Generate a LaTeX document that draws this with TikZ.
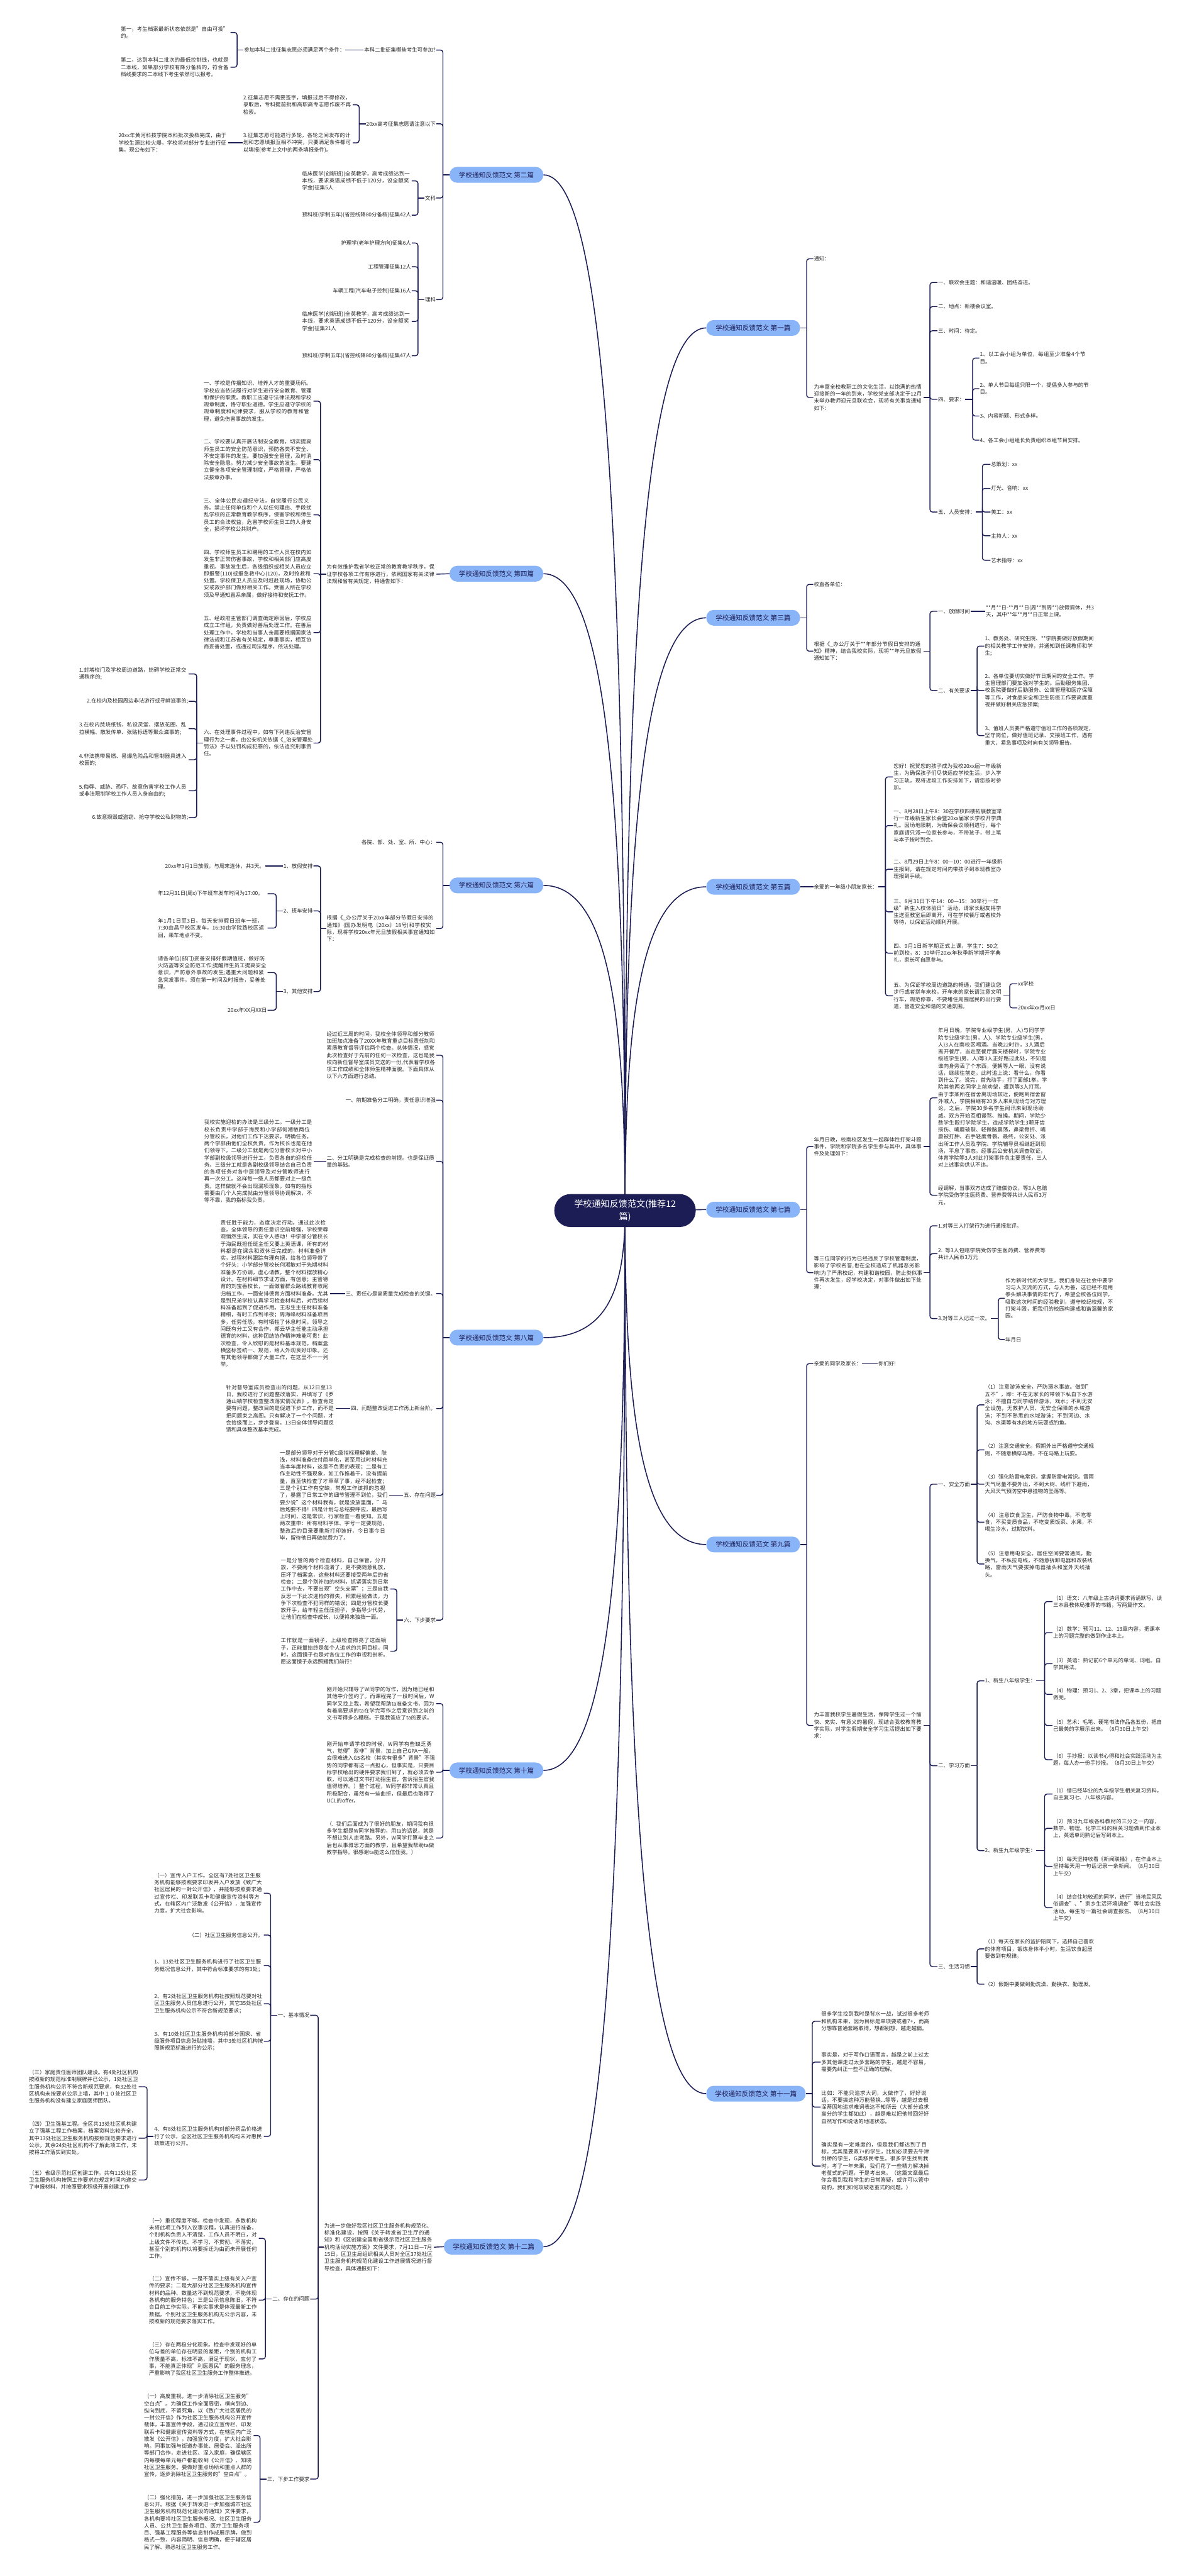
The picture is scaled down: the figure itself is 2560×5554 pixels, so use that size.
\documentclass[tikz,border=0pt]{standalone}
\usepackage{fontspec}
\setmainfont{Noto Sans CJK SC}
\XeTeXlinebreaklocale "zh"
\XeTeXlinebreakskip = 0pt plus 1pt
\usetikzlibrary{backgrounds}
\definecolor{navy}{HTML}{1C1D55}
\definecolor{topicblue}{HTML}{8AB4F8}

\begin{document}
\begin{tikzpicture}[x=0.2mm, y=-0.2mm,
  txt/.style={font=\fontsize{6.5pt}{8.7pt}\selectfont, text=black!85, inner xsep=0.2mm, inner ysep=0.2mm},
  para/.style={txt, text width=47mm, align=left},
  lft/.style={anchor=east},
  rgt/.style={anchor=west},
  topic/.style={fill=topicblue, text=navy, rounded corners=3.2mm, minimum width=40.4mm, minimum height=6.8mm, inner xsep=3.8mm, font=\fontsize{8.2pt}{10pt}\selectfont},
  root/.style={fill=navy, text=white, rounded corners=7mm, minimum width=61mm, minimum height=14.2mm, align=center, font=\fontsize{10.9pt}{15.3pt}\selectfont},
  link/.style={draw=navy, line width=1.1pt, rounded corners=3pt},
  trunk/.style={draw=navy, line width=1.2pt}]
\useasboundingbox (0,0) rectangle (2560,5554);

% centre and topics
\node[root] (root) at (1348,2610) {学校通知反馈范文(推荐12\\篇)};
\node[topic, lft] (b2) at (1172,377) {学校通知反馈范文 第二篇};
\node[topic, lft] (b4) at (1172,1237) {学校通知反馈范文 第四篇};
\node[topic, lft] (b6) at (1172,1909) {学校通知反馈范文 第六篇};
\node[topic, lft] (b8) at (1172,2884) {学校通知反馈范文 第八篇};
\node[topic, lft] (b10) at (1172,3817) {学校通知反馈范文 第十篇};
\node[topic, lft] (b12) at (1172,4844) {学校通知反馈范文 第十二篇};
\node[topic, rgt] (b1) at (1523,707) {学校通知反馈范文 第一篇};
\node[topic, rgt] (b3) at (1523,1332) {学校通知反馈范文 第三篇};
\node[topic, rgt] (b5) at (1523,1912) {学校通知反馈范文 第五篇};
\node[topic, rgt] (b7) at (1523,2608) {学校通知反馈范文 第七篇};
\node[topic, rgt] (b9) at (1523,3330) {学校通知反馈范文 第九篇};
\node[topic, rgt] (b11) at (1523,4514) {学校通知反馈范文 第十一篇};

\begin{scope}[on background layer]
\fill[white] (0,0) rectangle (2560,5554);
\draw[trunk] (b2.east) .. controls (1313,377) and (1348,1270) .. (root.center);
\draw[trunk] (b4.east) .. controls (1313,1237) and (1348,1786) .. (root.center);
\draw[trunk] (b6.east) .. controls (1313,1909) and (1348,2189) .. (root.center);
\draw[trunk] (b8.east) .. controls (1313,2884) and (1348,2774) .. (root.center);
\draw[trunk] (b10.east) .. controls (1313,3817) and (1348,3334) .. (root.center);
\draw[trunk] (b12.east) .. controls (1313,4844) and (1348,3950) .. (root.center);
\draw[trunk] (b1.west) .. controls (1383,707) and (1348,1468) .. (root.center);
\draw[trunk] (b3.west) .. controls (1383,1332) and (1348,1843) .. (root.center);
\draw[trunk] (b5.west) .. controls (1383,1912) and (1348,2191) .. (root.center);
\draw[trunk] (b7.west) -- (root.center);
\draw[trunk] (b9.west) .. controls (1383,3330) and (1348,3042) .. (root.center);
\draw[trunk] (b11.west) .. controls (1383,4514) and (1348,3752) .. (root.center);
\end{scope}

% 第二篇
\node[txt, lft] (b2a) at (941,108) {本科二批征集哪些考生可参加?};
\node[txt, lft] (b2b) at (941,267) {20xx高考征集志愿请注意以下};
\node[txt, lft] (b2c) at (941,427) {文科};
\node[txt, lft] (b2d) at (941,646) {理科};
\node[txt, lft] (b2a1) at (745,108) {参加本科二批征集志愿必须满足两个条件：};
\node[para, lft] (b2a1a) at (497,70) {第一，考生档案最新状态依然是"自由可投"的。};
\node[para, lft] (b2a1b) at (497,145) {第二，达到本科二批次的最低控制线，也就是二本线，如果部分学校有降分备档的，符合备档线要求的二本线下考生依然可以报考。};
\node[para, lft] (b2b1) at (761,226) {2.征集志愿不需要签字，填报过后不得修改，录取后，专科提前批和高职高专志愿作废不再检索。};
\node[para, lft] (b2b2) at (761,308) {3.征集志愿可能进行多轮，各轮之间发布的计划和志愿填报互相不冲突，只要满足条件都可以填报(参考上文中的两条填报条件)。};
\node[para, lft] (b2b2a) at (492,308) {20xx年黄河科技学院本科批次投档完成，由于学校生源比较火爆，学校将对部分专业进行征集，现公布如下：};
\node[para, lft] (b2c1) at (888,390) {临床医学(创新班)(全英教学，高考成绩达到一本线，要求英语成绩不低于120分，设全额奖学金)征集5人};
\node[para, lft] (b2c2) at (888,464) {预科班(学制五年)(省控线降80分备档)征集42人};
\node[txt, lft] (b2d1) at (888,524) {护理学(老年护理方向)征集6人};
\node[txt, lft] (b2d2) at (888,575) {工程管理征集12人};
\node[txt, lft] (b2d3) at (888,627) {车辆工程(汽车电子控制)征集16人};
\node[para, lft] (b2d4) at (888,693) {临床医学(创新班)(全英教学，高考成绩达到一本线，要求英语成绩不低于120分，设全额奖学金)征集21人};
\node[para, lft] (b2d5) at (888,767) {预科班(学制五年)(省控线降80分备档)征集47人};
\draw[link] (b2.west) -- ++(-14,0) coordinate (b2-j);
\foreach \c in {b2a,b2b,b2c,b2d} \draw[link] (b2-j) |- (\c.east);
\draw[link] (b2a.west) -- (b2a1.east);
\draw[link] (b2a1.west) -- ++(-14,0) coordinate (b2a1-j);
\foreach \c in {b2a1a,b2a1b} \draw[link] (b2a1-j) |- (\c.east);
\draw[link] (b2b.west) -- ++(-14,0) coordinate (b2b-j);
\foreach \c in {b2b1,b2b2} \draw[link] (b2b-j) |- (\c.east);
\draw[link] (b2b2.west) -- (b2b2a.east);
\draw[link] (b2c.west) -- ++(-14,0) coordinate (b2c-j);
\foreach \c in {b2c1,b2c2} \draw[link] (b2c-j) |- (\c.east);
\draw[link] (b2d.west) -- ++(-14,0) coordinate (b2d-j);
\foreach \c in {b2d1,b2d2,b2d3,b2d4,b2d5} \draw[link] (b2d-j) |- (\c.east);

% 第四篇
\node[para, lft] (b4a) at (941,1238) {为有效维护我省学校正常的教育教学秩序，保证学校各项工作有序进行，依照国家有关法律法规和省有关规定，特通告如下：};
\node[para, lft] (b4a1) at (676,865) {一、学校是传播知识、培养人才的重要场所。学校应当依法履行对学生进行安全教育、管理和保护的职责。教职工应遵守法律法规和学校规章制度，恪守职业道德。学生应遵守学校的规章制度和纪律要求，服从学校的教育和管理，避免伤害事故的发生。};
\node[para, lft] (b4a2) at (676,991) {二、学校要认真开展法制安全教育，切实提高师生员工的安全防范意识，预防各类不安全、不安定事件的发生。要加强安全管理，及时消除安全隐患，努力减少安全事故的发生。要建立健全各项安全管理制度，严格管理，严格依法按章办事。};
\node[para, lft] (b4a3) at (676,1110) {三、全体公民应遵纪守法，自觉履行公民义务。禁止任何单位和个人以任何理由、手段扰乱学校的正常教育教学秩序，侵害学校和师生员工的合法权益，危害学校师生员工的人身安全，损坏学校公共财产。};
\node[para, lft] (b4a4) at (676,1237) {四、学校师生员工和聘用的工作人员在校内如发生非正常伤害事故，学校和相关部门应高度重视。事故发生后，各级组织或相关人员应立即报警(110)或报急救中心(120)，及时抢救和处置。学校保卫人员应及时赶赴现场，协助公安或救护部门做好相关工作。受害人所在学校须及早通知直系亲属，做好接待和安抚工作。};
\node[para, lft] (b4a5) at (676,1364) {五、经政府主管部门调查确定原因后，学校应成立工作组，负责做好善后处理工作。在善后处理工作中，学校和当事人亲属要根据国家法律法规和江苏省有关规定，尊重事实，相互协商妥善处置，或通过司法程序，依法处理。};
\node[para, lft] (b4a6) at (676,1602) {六、在处理事件过程中，如有下列违反治安管理行为之一者，由公安机关依据《\_治安管理处罚法》予以处罚构成犯罪的，依法追究刑事责任。};
\node[para, lft] (b4a6a) at (407,1453) {1.封堵校门及学校周边道路，妨碍学校正常交通秩序的;};
\node[txt, lft] (b4a6b) at (407,1512) {2.在校内及校园周边非法游行或寻衅滋事的;};
\node[para, lft] (b4a6c) at (407,1571) {3.在校内焚烧纸钱、私设灵堂、摆放花圈、乱拉横幅、散发传单、张贴标语等聚众滋事的;};
\node[para, lft] (b4a6d) at (407,1638) {4.非法携带易燃、易爆危险品和管制器具进入校园的;};
\node[para, lft] (b4a6e) at (407,1705) {5.侮辱、威胁、恐吓、故意伤害学校工作人员或非法限制学校工作人员人身自由的;};
\node[txt, lft] (b4a6f) at (407,1763) {6.故意损毁或盗窃、抢夺学校公私财物的;};
\draw[link] (b4.west) -- (b4a.east);
\draw[link] (b4a.west) -- ++(-12,0) coordinate (b4a-j);
\foreach \c in {b4a1,b4a2,b4a3,b4a4,b4a5,b4a6} \draw[link] (b4a-j) |- (\c.east);
\draw[link] (b4a6.west) -- ++(-14,0) coordinate (b4a6-j);
\foreach \c in {b4a6a,b4a6b,b4a6c,b4a6d,b4a6e,b4a6f} \draw[link] (b4a6-j) |- (\c.east);

% 第六篇
\node[txt, lft] (b6a) at (941,1816) {各院、部、处、室、所、中心：};
\node[para, lft] (b6b) at (941,2002) {根据《\_办公厅关于20xx年部分节假日安排的通知》(国办发明电〔20xx〕18号)和学校实际，现将学校20xx年元旦放假相关事宜通知如下：};
\node[txt, lft] (b6b1) at (676,1867) {1、放假安排};
\node[txt, lft] (b6b2) at (676,1964) {2、班车安排};
\node[txt, lft] (b6b3) at (676,2138) {3、其他安排};
\node[txt, lft] (b6b1a) at (572,1867) {20xx年1月1日放假，与周末连休，共3天。};
\node[para, lft] (b6b2a) at (577,1927) {年12月31日(周x)下午班车发车时间为17:00。};
\node[para, lft] (b6b2b) at (577,2001) {年1月1日至3日，每天安排假日班车一班，7:30由昌平校区发车，16:30由学院路校区返回，乘车地点不变。};
\node[para, lft] (b6b3a) at (577,2097) {请各单位(部门)妥善安排好假期值班，做好防火防盗等安全防范工作;提醒师生员工提高安全意识，严防意外事故的发生;遇重大问题和紧急突发事件，须在第一时间及时报告，妥善处理。};
\node[txt, lft] (b6b3b) at (577,2178) {20xx年XX月XX日};
\draw[link] (b6.west) -- ++(-14,0) coordinate (b6-j);
\foreach \c in {b6a,b6b} \draw[link] (b6-j) |- (\c.east);
\draw[link] (b6b.west) -- ++(-12,0) coordinate (b6b-j);
\foreach \c in {b6b1,b6b2,b6b3} \draw[link] (b6b-j) |- (\c.east);
\draw[link] (b6b1.west) -- (b6b1a.east);
\draw[link] (b6b2.west) -- ++(-14,0) coordinate (b6b2-j);
\foreach \c in {b6b2a,b6b2b} \draw[link] (b6b2-j) |- (\c.east);
\draw[link] (b6b3.west) -- ++(-14,0) coordinate (b6b3-j);
\foreach \c in {b6b3a,b6b3b} \draw[link] (b6b3-j) |- (\c.east);

% 第八篇
\node[para, lft] (b8a) at (941,2275) {经过近三周的时间，我校全体领导和部分教师加班加点准备了20XX年教育重点目标责任制和素质教育督导评估两个检查。总体情况，感觉此次检查好于先前的任何一次检查，这也是我校向新任督导室成员交送的一份,代表着学校各项工作成绩和全体师生精神面貌。下面具体从以下六方面进行总结。};
\node[txt, lft] (b8b) at (941,2372) {一、前期准备分工明确，责任意识增强};
\node[para, lft] (b8c) at (941,2504) {二、分工明确是完成检查的前提。也是保证质量的基础。};
\node[txt, lft] (b8d) at (941,2789) {三、责任心是高质量完成检查的关键。};
\node[txt, lft] (b8e) at (941,3037) {四、问题整改促进工作再上新台阶。};
\node[txt, lft] (b8f) at (941,3224) {五、存在问题};
\node[txt, lft] (b8g) at (941,3493) {六、下步要求};
\node[para, lft] (b8c1) at (677,2504) {我校实施迎检的办法是三级分工。一级分工是校长负责中学部于海民和小学部何湘敏两位分管校长，对他们工作下达要求，明确任务。两个学部由他们全权负责，作为校长也是在他们领导下。二级分工就是两位分管校长对中小学部副校级领导进行分工，负责各自的迎检任务。三级分工就是各副校级领导结合自己负责的各项任务对各中层领导及对分管教师进行再一次分工。这样每一级人员都要对上一级负责。这样做就不会出现漏项现象。如有的指标需要由几个人完成就由分管领导协调解决，不等不靠，我的指标我负责。};
\node[para, lft] (b8d1) at (712,2789) {责任胜于能力，态度决定行动。通过此次检查，全体领导的责任意识空前增强，学校荣辱观悄然生成，实在令人感动！中学部分管校长于海民既担任班主任又要上英语课，所有的材料都是在课余和双休日完成的，材料准备详实，过程材料跟踪有理有据，给各位领导带了个好头；小学部分管校长何湘敏对于先期材料准备多方协调，虚心请教，整个材料摆放精心设计。在材料细节求证方面，有创意；主管德育的刘宝香校长，一面做着群众路线教育收尾归档工作，一面安排德育方面材料准备。尤其是到兄弟学校认真学习检查材料后，对后续材料准备起到了促进作用。王忠生主任材料准备精细，有时工作到半夜；周海峰材料准备项目多，任劳任怨，有时牺牲了休息时间。领导之间既有分工又有合作，郑云华主任能主动承担德育的材料，这种团结协作精神难能可贵！此次检查，令人欣慰的是材料基本规范，档案盒横竖标签统一、规范，给人外观良好印象。还有其他领导都做了大量工作，在这里不一一列举。};
\node[para, lft] (b8e1) at (724,3037) {针对督导室成员检查出的问题，从12日至13日，我校进行了问题整改落实，并填写了《罗通山镇学校检查整改落实情况表》。检查肯定要有问题，整改目的是促进下步工作，而不是把问题束之高阁。只有解决了一个个问题，才会拾级而上，步步登高。13日全体领导问题反馈和具体整改基本完成。};
\node[para, lft] (b8f1) at (840,3224) {一是部分领导对于分管C级指标理解偏差、肤浅，材料准备应付简单化，甚至用过时材料充当本年度材料，这是不负责的表现；二是有工作主动性不强现象，如工作推着干，没有提前量，直至快检查了才草草了事，经不起检查；三是个别工作有空缺，常规工作该抓的忽视了，暴露了日常工作的细节管理不到位，我们要少说"这个材料我有，就是没放里面，"马后炮要不得！四是计划与总结要呼应，最后写上时间，这是常识，行家检查一看便知。五是两次重申：所有材料字体、字号一定要规范，整改后的目录要重新打印装好，今日事今日毕，留待他日再做就费力了。};
\node[para, lft] (b8g1) at (842,3426) {一是分管的两个检查材料，自己保管，分开放，不要两个材料混淆了，更不要随意乱放，压坏了档案盒，这些材料还要接受两年后的省检查；二是个别补加的材料，抓紧落实到日常工作中去，不要出现"空头支票"；三是自我反思一下此次迎检的得失，积累经验做法，力争下次检查不犯同样的错误；四是分管校长要放开手，给年轻主任压担子，多指导少代劳，让他们在检查中成长，以便将来独挡一面。};
\node[para, lft] (b8g2) at (842,3560) {工作就是一面镜子，上级检查擦亮了这面镜子，正能量始终是每个人追求的共同目标，同时，这面镜子也是对各位工作的审视和剖析。愿这面镜子永远照耀我们前行！};
\draw[link] (b8.west) -- ++(-14,0) coordinate (b8-j);
\foreach \c in {b8a,b8b,b8c,b8d,b8e,b8f,b8g} \draw[link] (b8-j) |- (\c.east);
\foreach \p in {b8c,b8d,b8e,b8f} \draw[link] (\p.west) -- (\p1.east);
\draw[link] (b8g.west) -- ++(-14,0) coordinate (b8g-j);
\foreach \c in {b8g1,b8g2} \draw[link] (b8g-j) |- (\c.east);

% 第十篇
\node[para, lft] (b10a) at (941,3673) {刚开始只辅导了W同学的写作，因为她已经和其他中介签约了。而课程完了一段时间后，W同学又找上我，希望我帮助ta准备文书，因为有着高要求的ta在学完写作之后意识到之前的文书写得多么糟糕。于是我答应了ta的要求。};
\node[para, lft] (b10b) at (941,3821) {刚开始申请学校的时候，W同学有些缺乏勇气，觉得"双非"背景，加上自己GPA一般，会很难进入G5名校（其实有很多"背景"不强势的同学都有这一点担心，但事实是，只要目标学校给出的硬件要求我们到了，就必须去争取，可以通过文书打动招生官，告诉招生官我值得培养。）整个过程，W同学都非常认真且积极配合，虽然有一些曲折，但最后也取得了UCL的offer。};
\node[para, lft] (b10c) at (941,3963) {（. 我们后面成为了很好的朋友，期间我有很多学生都是W同学推荐的，用ta的话说，就是不想让别人走弯路。另外，W同学打算毕业之后也从事雅思方面的教学，且希望我帮助ta做教学指导。很感谢ta能这么信任我。）};
\draw[link] (b10.west) -- ++(-14,0) coordinate (b10-j);
\foreach \c in {b10a,b10b,b10c} \draw[link] (b10-j) |- (\c.east);

% 第十二篇
\node[para, lft] (b12a) at (936,4845) {为进一步做好我区社区卫生服务机构规范化、标准化建设，按照《关于转发省卫生厅的通知》和《区创建全国和省级示范社区卫生服务机构活动实施方案》文件要求，7月11日—7月15日，区卫生局组织相关人员对全区37处社区卫生服务机构规范化建设工作进展情况进行督导检查，具体通报如下：};
\node[txt, lft] (b12a1) at (669,4345) {一、基本情况};
\node[txt, lft] (b12a2) at (669,4957) {二、存在的问题};
\node[txt, lft] (b12a3) at (669,5345) {三、下步工作要求};
\node[para, lft] (c1) at (569,4082) {（一）宣传入户工作。全区有7处社区卫生服务机构能够按照要求印发并入户发放《致广大社区居民的一封公开信》，并能够按照要求通过宣传栏、印发联系卡和健康宣传资料等方式，在辖区内广泛散发《公开信》，加强宣传力度，扩大社会影响。};
\node[txt, lft] (c2) at (569,4172) {（二）社区卫生服务信息公开。};
\node[para, lft] (c3) at (569,4238) {1、13处社区卫生服务机构进行了社区卫生服务概况信息公开，其中符合标准要求的有3处；};
\node[para, lft] (c4) at (569,4320) {2、有2处社区卫生服务机构社按照规范要对社区卫生服务人员信息进行公开，其它35处社区卫生服务机构公示不符合新规范要求；};
\node[para, lft] (c5) at (569,4401) {3、有10处社区卫生服务机构将部分国家、省级服务项目信息张贴挂墙，其中3处社区机构按照新规范标准进行的公示；};
\node[para, lft] (c6) at (569,4606) {4、有8处社区卫生服务机构对部分药品价格进行了公示，全区社区卫生服务机构均未对惠民政策进行公开。};
\node[para, lft] (c6a) at (299,4499) {（三）家庭责任医师团队建设。有4处社区机构按照新的规范标准制展牌并已公示，1处社区卫生服务机构公示不符合新规范要求，有32处社区机构未按要求公示上墙，其中１０处社区卫生服务机构没有建立家庭医师团队。};
\node[para, lft] (c6b) at (299,4610) {（四）卫生强基工程。全区共13处社区机构建立了强基工程工作档案，档案资料比较齐全，其中13处社区卫生服务机构按照规范要求进行公示，其余24处社区机构不了解此项工作，未按将工作落实到实处。};
\node[para, lft] (c6c) at (299,4700) {（五）省级示范社区创建工作。共有11处社区卫生服务机构按照工作要求在规定时间内递交了申报材料，并按照要求积极开展创建工作};
\node[para, lft] (d1) at (558,4826) {（一）重视程度不够。检查中发现，多数机构未将此项工作列入议事议程，认真进行准备，个别机构负责人不清楚，工作人员不明白，对上级文件不传达、不学习、不贯彻、不落实，甚至个别的机构以将要拆迁为由而未开展任何工作。};
\node[para, lft] (d2) at (558,4959) {（二）宣传不够。一是不落实上级有关入户宣传的要求；二是大部分社区卫生服务机构宣传材料的品种、数量达不到规范要求，不能体现各机构的服务特色；三是公示信息陈旧，不符合目前工作实际，不能实事求是体现最新工作数据，个别社区卫生服务机构无公示内容，未按照新的规范要求落实工作。};
\node[para, lft] (d3) at (558,5086) {（三）存在两极分化现象。检查中发现好的单位与差的单位存在明显的差距，个别的机构工作质量不高，标准不高，满足于现状，应付了事，不能真正体现"利医惠民"的服务理念，严重影响了我区社区卫生服务工作整体推进。};
\node[para, lft] (e1) at (547,5251) {（一）高度重视，进一步消除社区卫生服务"空白点"。为确保工作全面周密，横向到边、纵向到底，不留死角，以《致广大社区居民的一封公开信》作为社区卫生服务机构公开宣传载体，丰富宣传手段，通过设立宣传栏、印发联系卡和健康宣传资料等方式，在辖区内广泛散发《公开信》，加强宣传力度，扩大社会影响。同事加强与街道办事处、居委会、派出所等部门合作，走进社区、深入家庭，确保辖区内每楼每单元每户都能收到《公开信》、知晓社区卫生服务。要做好重点场所和重点人群的宣传，逐步消除社区卫生服务的"空白点"。};
\node[para, lft] (e2) at (547,5438) {（二）强化措施，进一步加强社区卫生服务信息公开。根据《关于转发进一步加强城市社区卫生服务机构规范化建设的通知》文件要求，各机构要将社区卫生服务概况、社区卫生服务人员、公共卫生服务项目、医疗卫生服务项目、强基工程服务等信息制作成展示牌，做到格式一致、内容简明、信息明确，便于辖区居民了解、熟悉社区卫生服务工作。};
\draw[link] (b12.west) -- (b12a.east);
\draw[link] (b12a.west) -- ++(-12,0) coordinate (b12a-j);
\foreach \c in {b12a1,b12a2,b12a3} \draw[link] (b12a-j) |- (\c.east);
\draw[link] (b12a1.west) -- ++(-14,0) coordinate (b12a1-j);
\foreach \c in {c1,c2,c3,c4,c5,c6} \draw[link] (b12a1-j) |- (\c.east);
\draw[link] (c6.west) -- ++(-14,0) coordinate (c6-j);
\foreach \c in {c6a,c6b,c6c} \draw[link] (c6-j) |- (\c.east);
\draw[link] (b12a2.west) -- ++(-14,0) coordinate (b12a2-j);
\foreach \c in {d1,d2,d3} \draw[link] (b12a2-j) |- (\c.east);
\draw[link] (b12a3.west) -- ++(-14,0) coordinate (b12a3-j);
\foreach \c in {e1,e2} \draw[link] (b12a3-j) |- (\c.east);

% 第一篇
\node[txt, rgt] (b1a) at (1754,558) {通知：};
\node[para, rgt] (b1b) at (1754,857) {为丰富全校教职工的文化生活，以饱满的热情迎接新的一年的到来，学校党支部决定于12月末举办教师迎元旦联欢会，现将有关事宜通知如下：};
\node[txt, rgt] (b1b1) at (2022,609) {一、联欢会主题：和谐温暖、团结奋进。};
\node[txt, rgt] (b1b2) at (2022,661) {二、地点：新楼会议室。};
\node[txt, rgt] (b1b3) at (2022,713) {三、时间：待定。};
\node[txt, rgt] (b1b4) at (2022,861) {四、要求：};
\node[txt, rgt] (b1b5) at (2022,1104) {五、人员安排：};
\node[para, rgt] (b1b4a) at (2112,772) {1、以工会小组为单位，每组至少准备4个节目。};
\node[para, rgt] (b1b4b) at (2112,838) {2、单人节目每组只限一个，提倡多人参与的节目。};
\node[txt, rgt] (b1b4c) at (2112,897) {3、内容新颖、形式多样。};
\node[txt, rgt] (b1b4d) at (2112,949) {4、各工会小组组长负责组织本组节目安排。};
\node[txt, rgt] (b1b5a) at (2136,1001) {总策划：xx};
\node[txt, rgt] (b1b5b) at (2136,1053) {灯光、音响：xx};
\node[txt, rgt] (b1b5c) at (2136,1104) {美工：xx};
\node[txt, rgt] (b1b5d) at (2136,1155) {主持人：xx};
\node[txt, rgt] (b1b5e) at (2136,1208) {艺术指导：xx};
\draw[link] (b1.east) -- ++(14,0) coordinate (b1-j);
\foreach \c in {b1a,b1b} \draw[link] (b1-j) |- (\c.west);
\draw[link] (b1b.east) -- ++(14,0) coordinate (b1b-j);
\foreach \c in {b1b1,b1b2,b1b3,b1b4,b1b5} \draw[link] (b1b-j) |- (\c.west);
\draw[link] (b1b4.east) -- ++(16,0) coordinate (b1b4-j);
\foreach \c in {b1b4a,b1b4b,b1b4c,b1b4d} \draw[link] (b1b4-j) |- (\c.west);
\draw[link] (b1b5.east) -- ++(14,0) coordinate (b1b5-j);
\foreach \c in {b1b5a,b1b5b,b1b5c,b1b5d,b1b5e} \draw[link] (b1b5-j) |- (\c.west);

% 第三篇
\node[txt, rgt] (b3a) at (1754,1260) {校直各单位：};
\node[para, rgt] (b3b) at (1754,1404) {根据《\_办公厅关于**年部分节假日安排的通知》精神，结合我校实际，现将**年元旦放假通知如下：};
\node[txt, rgt] (b3b1) at (2022,1318) {一、放假时间};
\node[txt, rgt] (b3b2) at (2022,1489) {二、有关要求};
\node[para, rgt] (b3b1a) at (2125,1318) {**月**日-**月**日(周**到周**)放假调休，共3天，其中**年**月**日正常上课。};
\node[para, rgt] (b3b2a) at (2123,1393) {1、教务处、研究生院、**学院要做好放假期间的相关教学工作安排，并通知到任课教师和学生;};
\node[para, rgt] (b3b2b) at (2123,1489) {2、各单位要切实做好节日期间的安全工作。学生管理部门要加强对学生的。后勤服务集团、校医院要做好后勤服务、公寓管理和医疗保障等工作，对食品安全和卫生防疫工作要高度重视并做好相关应急预案;};
\node[para, rgt] (b3b2c) at (2123,1586) {3、值班人员要严格遵守值班工作的各项规定，坚守岗位，做好值班记录、交接班工作，遇有重大、紧急事项及时向有关领导报告。};
\draw[link] (b3.east) -- ++(14,0) coordinate (b3-j);
\foreach \c in {b3a,b3b} \draw[link] (b3-j) |- (\c.west);
\draw[link] (b3b.east) -- ++(14,0) coordinate (b3b-j);
\foreach \c in {b3b1,b3b2} \draw[link] (b3b-j) |- (\c.west);
\draw[link] (b3b1.east) -- (b3b1a.west);
\draw[link] (b3b2.east) -- ++(14,0) coordinate (b3b2-j);
\foreach \c in {b3b2a,b3b2b,b3b2c} \draw[link] (b3b2-j) |- (\c.west);

% 第五篇
\node[txt, rgt] (b5a) at (1754,1912) {亲爱的一年级小朋友家长：};
\node[para, rgt] (b5a1) at (1926,1675) {您好！祝贺您的孩子成为我校20xx届一年级新生，为确保孩子们尽快适应学校生活，步入学习正轨，现将近段工作安排如下，请您按时参加。};
\node[para, rgt] (b5a2) at (1926,1780) {一、8月28日上午8：30在学校四楼拓展教室举行一年级新生家长会暨20xx届家长学校开学典礼。因场地限制，为确保会议顺利进行，每个家庭请只派一位家长参与，不带孩子，带上笔与本子按时到会。};
\node[para, rgt] (b5a3) at (1926,1874) {二、8月29日上午8：00—10：00进行一年级新生报到，请在规定时间内带孩子到本班教室办理报到手续。};
\node[para, rgt] (b5a4) at (1926,1966) {三、8月31日下午14：00—15：30举行一年级"新生入校体验日"活动，请家长朋友将学生送至教室后即离开，可在学校餐厅或者校外等待，以保证活动顺利开展。};
\node[para, rgt] (b5a5) at (1926,2055) {四、9月1日新学期正式上课，学生7：50之前到校，8：30举行20xx年秋季新学期开学典礼，家长可自愿参与。};
\node[para, rgt] (b5a6) at (1926,2147) {五、为保证学校周边道路的畅通，我们建议您步行或者拼车来校。开车来的家长请注意文明行车，规范停靠，不要堵住周围居民的出行要道，营造安全和谐的交通氛围。};
\node[txt, rgt] (b5a6a) at (2194,2121) {xx学校};
\node[txt, rgt] (b5a6b) at (2194,2173) {20xx年xx月xx日};
\draw[link] (b5.east) -- (b5a.west);
\draw[link] (b5a.east) -- ++(16,0) coordinate (b5a-j);
\foreach \c in {b5a1,b5a2,b5a3,b5a4,b5a5,b5a6} \draw[link] (b5a-j) |- (\c.west);
\draw[link] (b5a6.east) -- ++(14,0) coordinate (b5a6-j);
\foreach \c in {b5a6a,b5a6b} \draw[link] (b5a6-j) |- (\c.west);

% 第七篇
\node[para, rgt] (b7a) at (1754,2472) {年月日晚，校南校区发生一起群体性打架斗殴事件，学院和学院多名学生参与其中，具体事件及处理如下：};
\node[para, rgt] (b7b) at (1754,2744) {等三位同学的行为已经违反了学校管理制度，影响了学校名誉,也在全校造成了机器恶劣影响!为了严肃校纪，构建和谐校园，防止类似事件再次发生，经学校决定，对事件做出如下处理：};
\node[para, rgt] (b7a1) at (2022,2367) {年月日晚，学院专业级学生(男，人)与同学学院专业级学生(男，人)、学院专业级学生(男，人)3人在南校区喝酒。当晚22时许，3人酒后离开餐厅，当走至餐厅露天楼梯时，学院专业级班学生(男，人)等3人正好路过此处，不知是谁向身旁丢了个东西，便朝等人一眼，没有说话，继续往前走。此时追上说：看什么，你看到什么了。说完，首先动手，打了面部1拳。学院其他两名同学上前劝架，遭到等3人打骂。由于李某所在宿舍离现场较近，便跑到宿舍窗外喊人，学院相继有20多人来到现场与对方理论。之后，学院30多名学生闻讯来到现场助威。双方开始互相谩骂、推搡。期间，学院少数学生殴打学院学生，造成学院学生3颗牙齿损伤、嘴唇破裂、轻微脑震荡，鼻梁骨折、嘴唇被打肿、右手轻度骨裂。最终，公安处、派出所工作人员及学院、学院辅导员相继赶到现场，平息了事态。经事后公安机关调查取证，体育学院等3人对此打架事件负主要责任，三人对上述事实供认不讳。};
\node[para, rgt] (b7a2) at (2022,2577) {经调解，当事双方达成了赔偿协议，等3人包赔学院受伤学生医药费、营养费等共计人民币3万元。};
\node[txt, rgt] (b7b1) at (2022,2643) {1.对等三人打架行为进行通报批评。};
\node[para, rgt] (b7b2) at (2022,2703) {2. 等3人包赔学院受伤学生医药费、营养费等共计人民币3万元};
\node[txt, rgt] (b7b3) at (2022,2843) {3.对等三人记过一次。};
\node[para, rgt] (b7b3a) at (2167,2799) {作为新时代的大学生，我们身处在社会中要学习与人交流的方式，与人为善，这已经不是用拳头解决事情的年代了，希望全校各位同学，吸取这次时间的经验教训，遵守校纪校规，不打架斗殴，把我们的校园构建成和谐温馨的家园。};
\node[txt, rgt] (b7b3b) at (2167,2888) {年月日};
\draw[link] (b7.east) -- ++(14,0) coordinate (b7-j);
\foreach \c in {b7a,b7b} \draw[link] (b7-j) |- (\c.west);
\draw[link] (b7a.east) -- ++(14,0) coordinate (b7a-j);
\foreach \c in {b7a1,b7a2} \draw[link] (b7a-j) |- (\c.west);
\draw[link] (b7b.east) -- ++(14,0) coordinate (b7b-j);
\foreach \c in {b7b1,b7b2,b7b3} \draw[link] (b7b-j) |- (\c.west);
\draw[link] (b7b3.east) -- ++(16,0) coordinate (b7b3-j);
\foreach \c in {b7b3a,b7b3b} \draw[link] (b7b3-j) |- (\c.west);

% 第九篇
\node[txt, rgt] (b9a) at (1754,2940) {亲爱的同学及家长：};
\node[txt, rgt] (b9a1) at (1893,2940) {你们好!};
\node[para, rgt] (b9b) at (1754,3720) {为丰富我校学生暑假生活，保障学生过一个愉快、充实、有意义的暑假，现结合我校教育教学实际，对学生假期安全学习生活提出如下要求：};
\node[txt, rgt] (b9b1) at (2022,3200) {一、安全方面};
\node[txt, rgt] (b9b2) at (2022,3807) {二、学习方面};
\node[txt, rgt] (b9b3) at (2022,4240) {三、生活习惯};
\node[para, rgt] (s1) at (2123,3029) {（1）注意游泳安全，严防溺水事故。做到"五不"，即：不在无家长的带领下私自下水游泳；不擅自与同学结伴游泳，戏水；不到无安全设施，无救护人员、无安全保障的水域游泳；不到不熟悉的水域游泳；不到河边、水沟、水渠等有水的地方玩耍或钓鱼。};
\node[para, rgt] (s2) at (2123,3126) {（2）注意交通安全。假期外出严格遵守交通规则，不随意横穿马路，不在马路上玩耍。};
\node[para, rgt] (s3) at (2123,3200) {（3）强化防雷电常识，掌握防雷电常识。雷雨天气尽量不要外出，不到大树、线杆下避雨，大风天气预防空中悬挂物的坠落等。};
\node[para, rgt] (s4) at (2123,3282) {（4）注意饮食卫生，严防食物中毒。不吃零食，不买变质食品，不吃变质饭菜、水果，不喝生冷水，过期饮料。};
\node[para, rgt] (s5) at (2123,3372) {（5）注意用电安全。居住空间要常通风，勤换气，不私拉电线，不随意拆卸电器和改装线路，雷雨天气要拔掉电器插头和室外天线插头。};
\node[txt, rgt] (g8) at (2123,3624) {1、新生八年级学生：};
\node[txt, rgt] (g9) at (2123,3990) {2、新生九年级学生：};
\node[para, rgt] (g8a) at (2270,3453) {（1）语文：八年级上古诗词要求背诵默写，读三本县教体局推荐的书籍，写两篇作文。};
\node[para, rgt] (g8b) at (2270,3520) {（2）数学：预习11、12、13章内容，把课本上的习题完整的做到作业本上。};
\node[para, rgt] (g8c) at (2270,3587) {（3）英语：熟记前6个单元的单词、词组。自学其用法。};
\node[para, rgt] (g8d) at (2270,3653) {（4）物理：预习1、2、3章，把课本上的习题做完。};
\node[para, rgt] (g8e) at (2270,3720) {（5）艺术：毛笔、硬笔书法作品各五份，把自己最美的字展示出来。（8月30日上午交）};
\node[para, rgt] (g8f) at (2270,3794) {（6）手抄报：以读书心得和社会实践活动为主题，每人办一份手抄报。（8月30日上午交）};
\node[para, rgt] (g9a) at (2270,3868) {（1）借已经毕业的九年级学生相关复习资料，自主复习七、八年级内容。};
\node[para, rgt] (g9b) at (2270,3942) {（2）预习九年级各科教材的三分之一内容，数学、物理、化学三科的相关习题做到作业本上，英语单词熟记后写到本上。};
\node[para, rgt] (g9c) at (2270,4024) {（3）每天坚持收看《新闻联播》，在作业本上坚持每天用一句话记录一条新闻。（8月30日上午交）};
\node[para, rgt] (g9d) at (2270,4113) {（4）结合住地较近的同学，进行"当地民风民俗调查"、"家乡生活环境调查"等社会实践活动，每生写一篇社会调查报告。（8月30日上午交）};
\node[para, rgt] (h1) at (2123,4202) {（1）每天在家长的监护陪同下，选择自己喜欢的体育项目，锻炼身体半小时，生活饮食起居要做到有规律。};
\node[para, rgt] (h2) at (2123,4278) {（2）假期中要做到勤洗澡、勤换衣、勤理发。};
\draw[link] (b9.east) -- ++(14,0) coordinate (b9-j);
\foreach \c in {b9a,b9b} \draw[link] (b9-j) |- (\c.west);
\draw[link] (b9a.east) -- (b9a1.west);
\draw[link] (b9b.east) -- ++(14,0) coordinate (b9b-j);
\foreach \c in {b9b1,b9b2,b9b3} \draw[link] (b9b-j) |- (\c.west);
\draw[link] (b9b1.east) -- ++(14,0) coordinate (b9b1-j);
\foreach \c in {s1,s2,s3,s4,s5} \draw[link] (b9b1-j) |- (\c.west);
\draw[link] (b9b2.east) -- ++(14,0) coordinate (b9b2-j);
\foreach \c in {g8,g9} \draw[link] (b9b2-j) |- (\c.west);
\draw[link] (g8.east) -- ++(18,0) coordinate (g8-j);
\foreach \c in {g8a,g8b,g8c,g8d,g8e,g8f} \draw[link] (g8-j) |- (\c.west);
\draw[link] (g9.east) -- ++(18,0) coordinate (g9-j);
\foreach \c in {g9a,g9b,g9c,g9d} \draw[link] (g9-j) |- (\c.west);
\draw[link] (b9b3.east) -- ++(14,0) coordinate (b9b3-j);
\foreach \c in {h1,h2} \draw[link] (b9b3-j) |- (\c.west);

% 第十一篇
\node[para, rgt] (k1) at (1770,4358) {很多学生找到我时是背水一战，试过很多老师和机构未果，因为目标是单项要或者7+，而高分想靠普通套路取得，想都别想，越走越偏。};
\node[para, rgt] (k2) at (1770,4446) {事实是，对于写作口语而言，越是之前上过太多其他课走过太多套路的学生，越是不容易，需要先纠正一些不正确的理解。};
\node[para, rgt] (k3) at (1770,4543) {比如：不能只追求大词，太做作了，好好说话，不要搞这种万能替换...等等，越是过去根深蒂固地追求难词表达不知所云（大部分追求高分的学生都如此），越是难以把他带回好好自然写作和说话的地道状态。};
\node[para, rgt] (k4) at (1770,4670) {确实是有一定难度的，但是我们都达到了目标。尤其是要双7+的学生，比如必须要去牛津剑桥的学生，G类移民考生。很多学生找到我时，考了一年未果，我们花了一些精力解决掉老茧式的问题，于是考出来。（这篇文章最后你会看到我和学生的日常答疑，或许可以管中窥豹，我们如何攻破老茧式的问题。）};
\draw[link] (b11.east) -- ++(14,0) coordinate (b11-j);
\foreach \c in {k1,k2,k3,k4} \draw[link] (b11-j) |- (\c.west);

\end{tikzpicture}
\end{document}
